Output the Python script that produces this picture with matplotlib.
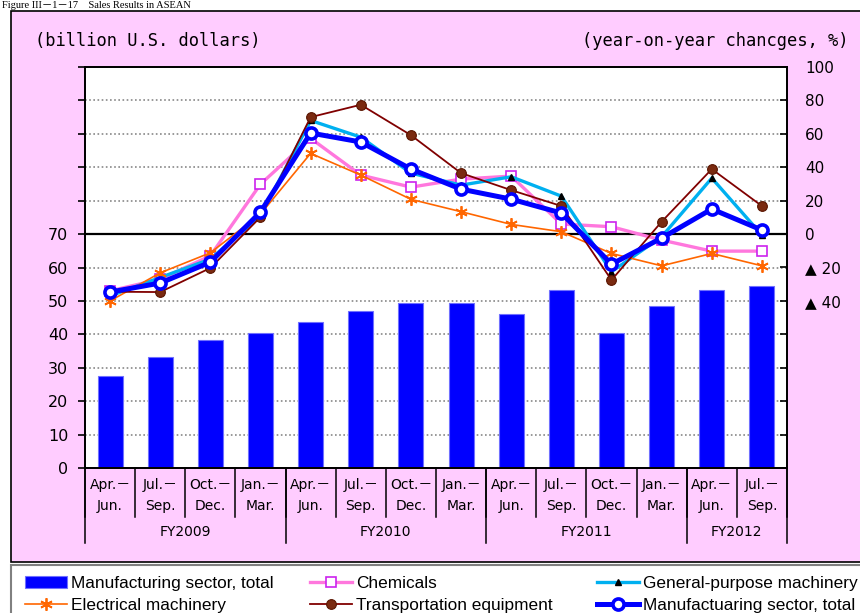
import numpy as np
import matplotlib
matplotlib.use("Agg")
import matplotlib.pyplot as plt
import matplotlib.transforms as mtransforms
from matplotlib.patches import Rectangle

# ---------------- data ----------------
quarter_labels = ["Apr.－\nJun.", "Jul.－\nSep.", "Oct.－\nDec.", "Jan.－\nMar.",
                  "Apr.－\nJun.", "Jul.－\nSep.", "Oct.－\nDec.", "Jan.－\nMar.",
                  "Apr.－\nJun.", "Jul.－\nSep.", "Oct.－\nDec.", "Jan.－\nMar.",
                  "Apr.－\nJun.", "Jul.－\nSep."]
fy_labels = ["FY2009", "FY2010", "FY2011", "FY2012"]
fy_sizes = [4, 4, 4, 2]

sales_total = [27.6, 33.3, 38.3, 40.4, 43.7, 47.1, 49.5, 49.5, 46.1, 53.2, 40.4, 48.5, 53.2, 54.5]

chemicals = [-34.0, -27.0, -13.0, 29.9, 57.3, 35.3, 28.1, 32.9, 34.7, 6.0, 4.4, -3.6, -10.2, -10.2]
general = [-37.0, -26.0, -15.0, 11.0, 68.0, 58.0, 36.5, 29.3, 34.3, 22.7, -22.5, -1.6, 33.5, -0.6]
electrical = [-40.0, -23.2, -11.2, 12.0, 48.3, 35.3, 20.8, 13.4, 5.8, 1.4, -11.6, -19.0, -11.6, -19.0]
transport = [-34.5, -34.7, -20.3, 10.2, 70.0, 77.4, 59.2, 36.5, 26.3, 16.8, -27.5, 7.4, 38.9, 16.8]
total_yoy = [-34.7, -29.3, -16.8, 13.2, 60.5, 55.1, 38.9, 26.9, 20.9, 12.6, -18.0, -2.4, 15.0, 2.4]

W, H = 860, 613
def fx(px):
    return px / W
def fy(py):
    return 1 - py / H

fig = plt.figure(figsize=(W / 100, H / 100), dpi=100)
fig.patch.set_facecolor("white")

# pink panel and legend box
fig.add_artist(Rectangle((fx(11), fy(562)), fx(900) - fx(11), fy(11) - fy(562),
                         transform=fig.transFigure, facecolor="#FFCCFF",
                         edgecolor="black", lw=1.2, zorder=-5))
fig.add_artist(Rectangle((fx(11), fy(660)), fx(900) - fx(11), fy(565) - fy(660),
                         transform=fig.transFigure, facecolor="white",
                         edgecolor="#808080", lw=1.5, zorder=-5))

# figure title at very top
fig.text(fx(2), fy(0.5), "Figure III－1－17　Sales Results in ASEAN",
         family=["Liberation Serif", "Noto Sans CJK JP"], fontsize=7.5, va="top")

fig.text(fx(35), fy(41), "(billion U.S. dollars)", family="DejaVu Sans Mono",
         fontsize=12.3, va="center", ha="left")
fig.text(fx(848), fy(41), "(year-on-year chancges, %)", family="DejaVu Sans Mono",
         fontsize=12.3, va="center", ha="right")

ax = fig.add_axes([fx(85), fy(468), fx(787) - fx(85), fy(67) - fy(468)])
ax.set_facecolor("white")
x = np.arange(len(quarter_labels))

bars = ax.bar(x, sales_total, width=0.5, color="#0000FF", edgecolor="#7070FF",
              lw=0.8, zorder=2)
ax.set_xlim(-0.5, len(quarter_labels) - 0.5)
ax.set_ylim(0, 120)
lt = list(range(0, 121, 10))
ax.set_yticks(lt)
ax.set_yticklabels([str(v) if v <= 70 else "" for v in lt])
ax.tick_params(axis="y", direction="out", length=5, width=1.2, pad=7, labelsize=11.5)
ax.set_xticks(x)
ax.set_xticklabels(quarter_labels, linespacing=1.65,
                   family=["DejaVu Sans", "Noto Sans CJK JP"])
ax.tick_params(axis="x", length=0, pad=7, labelsize=10)
ax.yaxis.grid(True, linestyle=(0, (1, 1.5)), color="#888888", lw=1.2)
ax.set_axisbelow(True)
for s in ax.spines.values():
    s.set_color("black")
    s.set_linewidth(1.3)

ax2 = ax.twinx()
ax2.set_ylim(-140, 100)
rt = list(range(-140, 101, 20))
ax2.set_yticks(rt)
ax2.set_yticklabels([("" if v < -40 else (f"▲ {abs(v)}" if v < 0 else str(v))) for v in rt])
ax2.tick_params(axis="y", direction="in", length=5, width=1.2, pad=13, labelsize=11)
for s in ax2.spines.values():
    s.set_color("black")
    s.set_linewidth(1.3)
ax2.axhline(0, color="black", lw=1.6, zorder=1)

l_chem, = ax2.plot(x, chemicals, color="#FF77DD", lw=2.4, marker="s", ms=6.5,
                   mfc="white", mec="#CC22EE", mew=1.2, zorder=3)
l_gen, = ax2.plot(x, general, color="#00B0F0", lw=2.4, marker="^", ms=4.5,
                  mfc="black", mec="black", zorder=4)
l_elec, = ax2.plot(x, electrical, color="#FF6600", lw=1.2, marker=(6, 2, 0), ms=9,
                   mec="#FF6600", mew=1.3, zorder=5)
l_trans, = ax2.plot(x, transport, color="#800000", lw=1.3, marker="o", ms=7,
                    mfc="#7A2A10", mec="#5A1500", mew=0.8, zorder=6)
l_total, = ax2.plot(x, total_yoy, color="#0000FF", lw=3.6, marker="o", ms=8,
                    mfc="white", mec="#0000FF", mew=2.6, zorder=7)

# category dividers and fiscal-year groups below the axis
trans = mtransforms.blended_transform_factory(ax.transData, ax.transAxes)
axh = fy(67) - fy(468)
cat_depth = -(49 / H) / axh
grp_depth = -(75 / H) / axh
for b in np.arange(-0.5, len(quarter_labels), 1.0):
    ax.plot([b, b], [0, cat_depth], transform=trans, clip_on=False, color="black", lw=1.1)
start = -0.5
for lab, n in zip(fy_labels, fy_sizes):
    ax.plot([start, start], [0, grp_depth], transform=trans, clip_on=False, color="black", lw=1.1)
    ax.text(start + n / 2, -(64 / H) / axh, lab, transform=trans, ha="center",
            va="center", fontsize=10)
    start += n
ax.plot([start, start], [0, grp_depth], transform=trans, clip_on=False, color="black", lw=1.1)

# legend (three columns)
lprop = {"family": "Liberation Sans", "size": 12.4}
common = dict(loc="upper left", frameon=False, borderpad=0, borderaxespad=0,
              handlelength=2.45, handletextpad=0.2, labelspacing=0.38, prop=lprop)
fig.legend([bars, l_elec], ["Manufacturing sector, total", "Electrical machinery"],
           bbox_to_anchor=(fx(25), fy(576)), **common)
fig.legend([l_chem, l_trans], ["Chemicals", "Transportation equipment"],
           bbox_to_anchor=(fx(310), fy(576)), **common)
fig.legend([l_gen, l_total], ["General-purpose machinery", "Manufactuaring sector, total"],
           bbox_to_anchor=(fx(597), fy(576)), **common)

fig.savefig("out.png", dpi=100)
